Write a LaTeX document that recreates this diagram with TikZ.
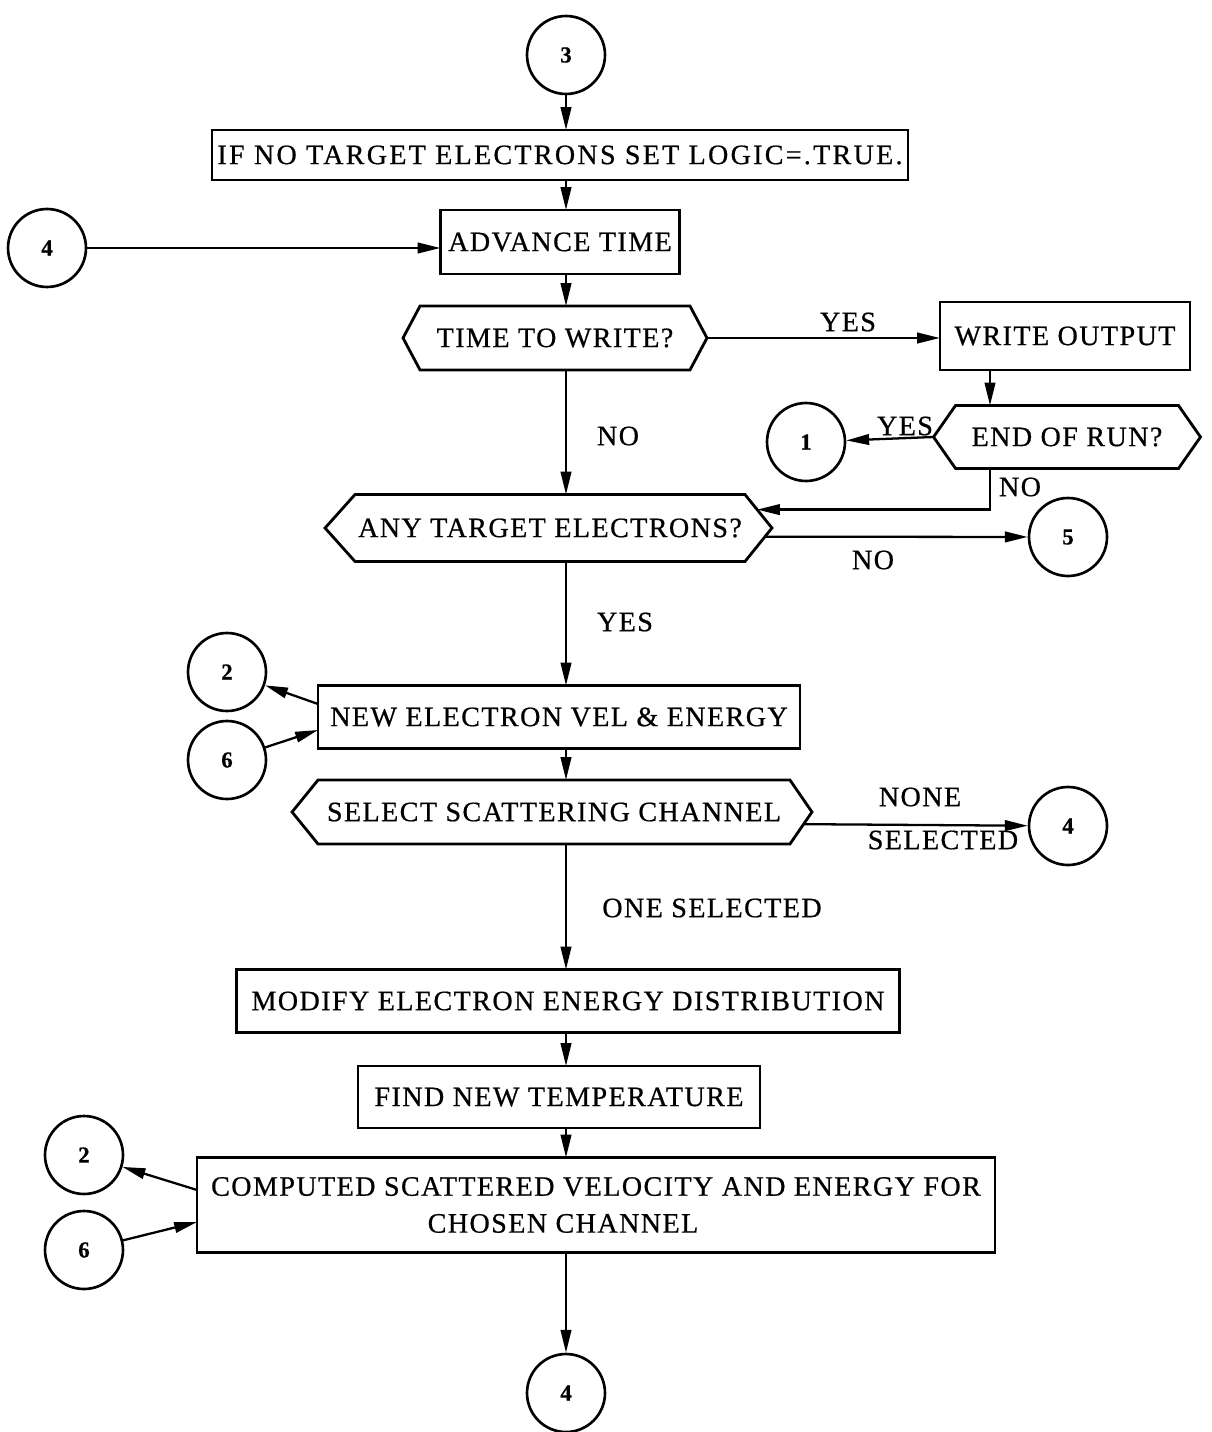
\documentclass[tikz,border=0pt]{standalone}
\usepackage{fontspec}
\setmainfont{Liberation Serif}[LetterSpace=5,FakeBold=0.6]
\usetikzlibrary{arrows.meta,calc}
\tikzset{
  boxline/.style={draw,line width=1.6pt},
  procbox/.style={boxline,rectangle,inner sep=0pt,outer sep=0pt,font=\fontsize{16}{21}\selectfont,align=center},
  hexbox/.style={rectangle,draw=none,inner sep=0pt,outer sep=0pt,font=\fontsize{16}{21}\selectfont},
  conn/.style={draw,circle,line width=1.5pt,minimum size=1.56cm,inner sep=0pt,font=\fontsize{13}{15}\selectfont\bfseries},
  arr/.style={line width=1.3pt,-{Triangle[length=13pt,width=6pt]}},
  lbl/.style={font=\fontsize{16}{19}\selectfont,inner sep=0pt}
}
\newcommand{\hexdraw}[3]{%
  \coordinate (#1L) at ($(#1.west)+(-#2,0)$);
  \coordinate (#1R) at ($(#1.east)+(#3,0)$);
  \draw[boxline] (#1L) -- (#1.north west) -- (#1.north east) -- (#1R) -- (#1.south east) -- (#1.south west) -- cycle;}
\begin{document}
\begin{tikzpicture}[x=0.02cm,y=-0.02cm]
\useasboundingbox (0,0) rectangle (1211,1432);
% connectors (circles)
\node[conn] (c3) at (566,55) {3};
\node[conn] (c4a) at (47,248) {4};
\node[conn] (c1) at (806,442) {1};
\node[conn] (c5) at (1068,537) {5};
\node[conn] (c2a) at (227,672) {2};
\node[conn] (c6a) at (227,760) {6};
\node[conn] (c4b) at (1068,826) {4};
\node[conn] (c2b) at (84,1155) {2};
\node[conn] (c6b) at (84,1250) {6};
\node[conn] (c4c) at (566,1393) {4};
% boxes
\node[procbox,minimum width=13.92cm,minimum height=1.0cm,font=\fontsize{16}{21}\addfontfeatures{LetterSpace=8}] (b1) at (560,155) {IF NO TARGET ELECTRONS SET LOGIC=.TRUE.};
\node[procbox,minimum width=4.78cm,minimum height=1.28cm] (adv) at (560,242) {ADVANCE TIME};
\node[hexbox,minimum width=5.4cm,minimum height=1.28cm] (tw) at (555,338) {TIME TO WRITE?};
\hexdraw{tw}{17}{17}
\node[procbox,minimum width=5.0cm,minimum height=1.36cm] (wo) at (1065,336) {WRITE OUTPUT};
\node[hexbox,minimum width=4.46cm,minimum height=1.26cm] (eor) at (1067,437) {END OF RUN?};
\hexdraw{eor}{22}{22}
\node[hexbox,minimum width=7.8cm,minimum height=1.34cm] (ate) at (550,528) {ANY TARGET ELECTRONS?};
\hexdraw{ate}{30}{27}
\node[procbox,minimum width=9.64cm,minimum height=1.26cm] (nev) at (559,717) {NEW ELECTRON VEL \& ENERGY};
\node[hexbox,minimum width=9.44cm,minimum height=1.28cm] (ssc) at (554,812) {SELECT SCATTERING CHANNEL};
\hexdraw{ssc}{26}{22}
\node[procbox,minimum width=13.26cm,minimum height=1.26cm] (mod) at (568,1001) {MODIFY ELECTRON ENERGY DISTRIBUTION};
\node[procbox,minimum width=8.04cm,minimum height=1.24cm] (fnt) at (559,1097) {FIND NEW TEMPERATURE};
\node[procbox,minimum width=15.96cm,minimum height=1.9cm] (csv) at (596,1205) {COMPUTED SCATTERED VELOCITY AND ENERGY FOR\\\hspace*{-1.32cm}CHOSEN CHANNEL};
% helper coordinates
\coordinate (xk) at (990,0);
\coordinate (ateNE) at ($(ate.north east)!0.45!(ateR)$);
\coordinate (ateSE) at ($(ateR)!0.26!(ate.south east)$);
\coordinate (sscSE) at ($(sscR)!0.38!(ssc.south east)$);
% main flow
\draw[arr] (c3.south) -- (c3.south |- b1.north);
\draw[arr] (c3.south |- b1.south) -- (c3.south |- adv.north);
\draw[arr] (c4a.east) -- (c4a.east -| adv.west);
\draw[arr] (c3.south |- adv.south) -- (c3.south |- tw.north);
\draw[arr] (twR) -- (twR -| wo.west);
\draw[arr] (wo.south -| xk) -- (eor.north -| xk);
\draw[arr] (eorL) -- (c1);
\draw[arr] (eor.south -| xk) |- (ateNE);
\draw[arr] (c3.south |- tw.south) -- (c3.south |- ate.north);
\draw[arr] (ateSE) -- (c5);
\draw[arr] (c3.south |- ate.south) -- (c3.south |- nev.north);
\draw[arr] ($(nev.west)+(0,-13)$) -- (c2a);
\draw[arr] (c6a) -- ($(nev.west)+(0,13)$);
\draw[arr] (c3.south |- nev.south) -- (c3.south |- ssc.north);
\draw[arr] (sscSE) -- (c4b);
\draw[arr] (c3.south |- ssc.south) -- (c3.south |- mod.north);
\draw[arr] (c3.south |- mod.south) -- (c3.south |- fnt.north);
\draw[arr] (c3.south |- fnt.south) -- (c3.south |- csv.north);
\draw[arr] ($(csv.west)+(0,-15)$) -- (c2b);
\draw[arr] (c6b) -- ($(csv.west)+(0,17)$);
\draw[arr] (c3.south |- csv.south) -- (c4c.north);
% labels
\node[lbl] (l1) at (848,322) {YES};
\node[lbl] (l2) at (618,436) {NO};
\node[lbl] (l3) at (905,426) {YES};
\node[lbl] (l4) at (1020,487) {NO};
\node[lbl] (l5) at (873,560) {NO};
\node[lbl] (l6) at (625,622) {YES};
\node[lbl] (l7) at (920,797) {NONE};
\node[lbl] (l8) at (943,840) {SELECTED};
\node[lbl] (l9) at (712,908) {ONE SELECTED};
\end{tikzpicture}
\end{document}
